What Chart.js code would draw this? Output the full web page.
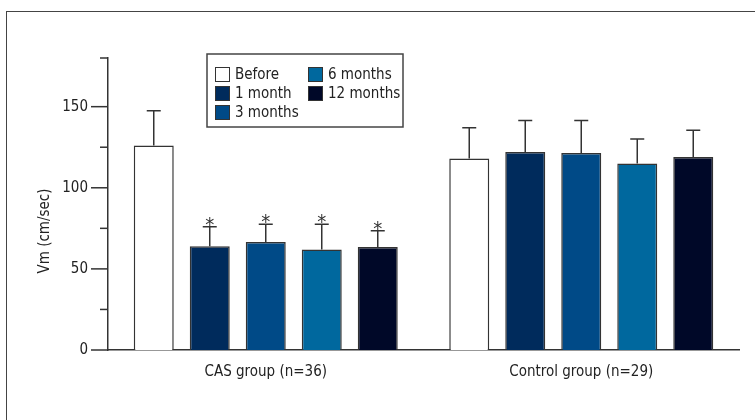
<!DOCTYPE html>
<html>
<head>
<meta charset="utf-8">
<script src="https://cdn.jsdelivr.net/npm/chart.js@4.4.1/dist/chart.umd.min.js"></script>
<style>
  html, body { margin: 0; padding: 0; background: #ffffff; }
  #wrap { position: relative; width: 755px; height: 420px; }
</style>
</head>
<body>
<div id="wrap"><canvas id="c" width="755" height="420"></canvas></div>
<script>
// Mean Vm per group and time point, with standard deviations
const categories = ['CAS group (n=36)', 'Control group (n=29)'];
const seriesNames = ['Before', '1 month', '3 months', '6 months', '12 months'];
const before   = [126, 118];
const month1   = [64, 122];
const month3   = [66.5, 121.5];
const month6   = [62, 115];
const month12  = [63.5, 119];
const sdBefore  = [21.5, 19];
const sdMonth1  = [12, 19.5];
const sdMonth3  = [11, 20];
const sdMonth6  = [15.5, 15];
const sdMonth12 = [10, 16.5];
// '*' marks a significant difference versus baseline
const starMonth1  = [true, false];
const starMonth3  = [true, false];
const starMonth6  = [true, false];
const starMonth12 = [true, false];
const yTickLabels = [0, 50, 100, 150];

const FONT = '"DejaVu Sans Condensed", "Liberation Sans Narrow", sans-serif';
const INK = '#333333';
const colors = ['#ffffff', '#002b5c', '#004a87', '#00689e', '#000828'];
const seriesValues = [before, month1, month3, month6, month12];
const seriesSd = [sdBefore, sdMonth1, sdMonth3, sdMonth6, sdMonth12];
const seriesStars = [[false, false], starMonth1, starMonth3, starMonth6, starMonth12];

const datasets = seriesNames.map((name, i) => ({
  label: name,
  data: seriesValues[i],
  sd: seriesSd[i],
  stars: seriesStars[i],
  backgroundColor: colors[i],
  borderColor: INK,
  borderWidth: 1.5,
  categoryPercentage: 0.8875,
  barPercentage: 0.714
}));

// Outer frame, tick marks, error bars, asterisks, axis title and legend box
const decor = {
  id: 'decor',
  beforeDatasetsDraw(chart) {
    const ctx = chart.ctx;
    ctx.save();
    ctx.strokeStyle = '#444';
    ctx.lineWidth = 1;
    ctx.strokeRect(6.5, 11.5, 900, 600);
    ctx.restore();
  },
  afterDatasetsDraw(chart) {
    const ctx = chart.ctx;
    const y = chart.scales.y;
    const left = chart.chartArea.left;
    ctx.save();
    ctx.strokeStyle = INK;
    ctx.lineWidth = 1.5;
    // y ticks: long at labelled values, short in between
    y.ticks.forEach(t => {
      const py = y.getPixelForValue(t.value);
      const major = yTickLabels.includes(t.value);
      ctx.beginPath();
      ctx.moveTo(left - (major ? 17 : 8), py);
      ctx.lineTo(left, py);
      ctx.stroke();
    });
    // error bars
    chart.data.datasets.forEach((ds, di) => {
      const meta = chart.getDatasetMeta(di);
      meta.data.forEach((bar, i) => {
        const top = y.getPixelForValue(ds.data[i]);
        const hi = y.getPixelForValue(ds.data[i] + ds.sd[i]);
        ctx.beginPath();
        ctx.moveTo(bar.x, top);
        ctx.lineTo(bar.x, hi);
        ctx.moveTo(bar.x - 7, hi);
        ctx.lineTo(bar.x + 7, hi);
        ctx.stroke();
        if (ds.stars[i]) {
          ctx.fillStyle = INK;
          ctx.font = '20px ' + FONT;
          ctx.textAlign = 'center';
          ctx.textBaseline = 'alphabetic';
          ctx.fillText('*', bar.x, hi + 4);
        }
      });
    });
    // y axis title
    ctx.fillStyle = '#222';
    ctx.font = '15px ' + FONT;
    ctx.translate(45, 231);
    ctx.rotate(-Math.PI / 2);
    ctx.textAlign = 'center';
    ctx.textBaseline = 'middle';
    ctx.fillText('Vm (cm/sec)', 0, 0);
    ctx.restore();

    // legend
    ctx.save();
    ctx.strokeStyle = '#444';
    ctx.lineWidth = 1.5;
    ctx.fillStyle = '#fff';
    ctx.fillRect(207, 54, 196, 73);
    ctx.strokeRect(207, 54, 196, 73);
    const slots = [[215, 74], [215, 93], [215, 112], [308, 74], [308, 93]];
    ctx.font = '15px ' + FONT;
    ctx.textBaseline = 'middle';
    ctx.textAlign = 'left';
    chart.data.datasets.forEach((ds, i) => {
      const [sx, sy] = slots[i];
      ctx.fillStyle = ds.backgroundColor;
      ctx.fillRect(sx, sy - 7, 15, 15);
      ctx.strokeStyle = INK;
      ctx.lineWidth = 1;
      ctx.strokeRect(sx + 0.5, sy - 6.5, 14, 14);
      ctx.fillStyle = '#222';
      ctx.fillText(ds.label, sx + 20, sy + 1);
    });
    ctx.restore();
  }
};

new Chart(document.getElementById('c'), {
  type: 'bar',
  data: { labels: categories, datasets },
  options: {
    responsive: false,
    animation: false,
    events: [],
    layout: { padding: { left: 0, right: 16, top: 58, bottom: 0 } },
    plugins: { legend: { display: false }, tooltip: { enabled: false } },
    scales: {
      x: {
        grid: { display: false, drawTicks: false },
        border: { display: true, color: INK, width: 1.5 },
        ticks: { color: '#222', font: { family: FONT, size: 15 }, padding: 13 },
        afterFit(s) { s.height = 70; }
      },
      y: {
        min: 0,
        max: 180,
        grid: { display: false, drawTicks: false },
        border: { display: true, color: INK, width: 1.5 },
        ticks: {
          stepSize: 25,
          padding: 20,
          color: '#222',
          font: { family: FONT, size: 15 },
          callback: v => (yTickLabels.includes(v) ? String(v) : '')
        },
        afterFit(s) { s.width = 108; }
      }
    }
  },
  plugins: [decor]
});
</script>
</body>
</html>
